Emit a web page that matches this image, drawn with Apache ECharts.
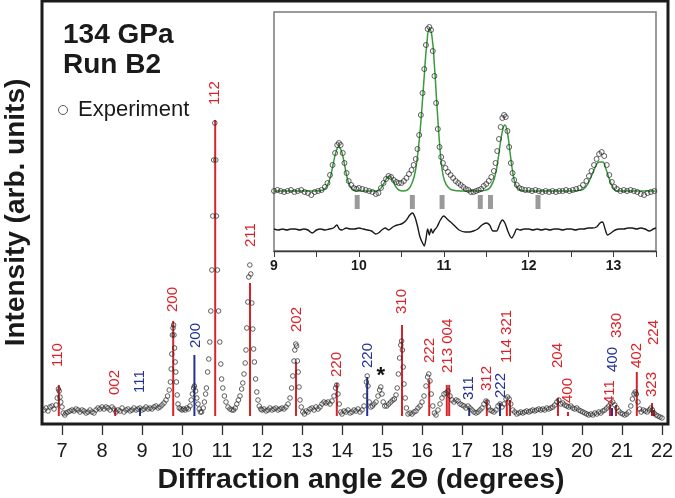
<!DOCTYPE html>
<html><head><meta charset="utf-8">
<script src="https://cdn.jsdelivr.net/npm/echarts@6/dist/echarts.min.js"></script>
<style>html,body{margin:0;padding:0;background:#fff}#c{width:675px;height:498px}</style>
</head><body><div id="c"></div>
<script>
const FONT = '"Liberation Sans", Arial, Helvetica, sans-serif';
const RED = '#d8232a', BLUE = '#243391';

// ---- main pattern: [2theta, intensity] ----
const mainObs = [[6.55,14],[6.6,16],[6.65,13],[6.7,17],[6.75,18],[6.8,15],[6.85,19],[6.88,26],[6.91,35],[6.93,33],[6.95,27],[6.97,22],[7.0,17],[7.03,11],[7.07,9],[7.1,11],[7.15,12],[7.2,13],[7.25,14],[7.3,13],[7.35,15],[7.4,14],[7.45,12],[7.5,14],[7.55,13],[7.6,11],[7.65,12],[7.7,14],[7.75,12],[7.8,11],[7.85,14],[7.9,16],[7.95,15],[8.0,17],[8.05,15],[8.1,17],[8.15,16],[8.2,14],[8.25,17],[8.3,15],[8.35,12],[8.4,14],[8.45,13],[8.5,16],[8.55,12],[8.6,14],[8.65,15],[8.7,13],[8.75,14],[8.8,16],[8.85,14],[8.9,15],[8.95,16],[9.0,14],[9.05,15],[9.1,17],[9.15,15],[9.2,16],[9.25,15],[9.3,17],[9.35,18],[9.4,16],[9.45,17],[9.5,19],[9.55,21],[9.6,24],[9.64,28],[9.68,34],[9.71,42],[9.73,55],[9.745,70],[9.76,89],[9.775,96],[9.79,99],[9.8,89],[9.815,76],[9.83,62],[9.845,52],[9.86,42],[9.88,29],[9.9,20],[9.93,16],[9.97,15],[10.0,14],[10.04,15],[10.08,14],[10.12,16],[10.16,15],[10.2,18],[10.23,24],[10.26,30],[10.29,36],[10.31,38],[10.34,33],[10.37,26],[10.4,20],[10.43,15],[10.46,12],[10.49,12],[10.53,16],[10.56,22],[10.59,30],[10.61,36],[10.64,52],[10.67,65],[10.695,82],[10.72,113],[10.745,154],[10.77,208],[10.79,264],[10.82,301],[10.845,264],[10.86,208],[10.885,154],[10.915,113],[10.945,82],[10.97,60],[10.99,45],[11.02,36],[11.06,28],[11.1,22],[11.15,17],[11.2,15],[11.25,14],[11.29,14],[11.33,16],[11.37,20],[11.41,24],[11.45,28],[11.49,35],[11.52,41],[11.55,50],[11.58,61],[11.6,74],[11.62,96],[11.645,122],[11.67,147],[11.695,159],[11.72,150],[11.745,121],[11.77,95],[11.79,75],[11.81,62],[11.84,45],[11.87,32],[11.9,24],[11.93,18],[11.97,15],[12.0,14],[12.05,15],[12.1,13],[12.15,14],[12.2,16],[12.25,14],[12.3,15],[12.35,16],[12.4,14],[12.45,15],[12.5,16],[12.55,15],[12.6,17],[12.65,20],[12.7,26],[12.74,36],[12.77,48],[12.8,63],[12.82,74],[12.845,80],[12.865,78],[12.885,63],[12.905,52],[12.925,37],[12.95,24],[12.98,17],[13.02,12],[13.06,10],[13.1,13],[13.15,12],[13.2,15],[13.25,16],[13.3,14],[13.35,17],[13.4,15],[13.45,17],[13.5,20],[13.55,22],[13.6,21],[13.65,22],[13.7,20],[13.75,23],[13.8,28],[13.84,36],[13.87,39],[13.9,30],[13.93,20],[13.97,12],[14.0,10],[14.05,13],[14.1,12],[14.15,14],[14.2,11],[14.25,12],[14.3,14],[14.35,13],[14.4,15],[14.45,12],[14.5,14],[14.55,18],[14.58,28],[14.61,42],[14.63,48],[14.65,38],[14.68,22],[14.72,17],[14.76,18],[14.8,20],[14.85,22],[14.9,28],[14.94,34],[14.97,37],[15.0,30],[15.03,22],[15.07,18],[15.12,18],[15.17,20],[15.22,22],[15.27,24],[15.31,25],[15.35,29],[15.38,36],[15.41,50],[15.44,66],[15.47,79],[15.49,83],[15.51,74],[15.53,57],[15.55,40],[15.58,26],[15.61,16],[15.65,10],[15.7,11],[15.75,10],[15.8,12],[15.85,13],[15.9,16],[15.95,18],[16.0,22],[16.05,28],[16.1,38],[16.14,47],[16.17,50],[16.2,43],[16.23,30],[16.27,18],[16.31,11],[16.35,9],[16.4,14],[16.45,20],[16.5,26],[16.55,30],[16.6,31],[16.65,33],[16.7,28],[16.75,24],[16.8,22],[16.85,24],[16.9,23],[16.95,20],[17.0,19],[17.05,18],[17.1,16],[17.15,18],[17.2,16],[17.25,14],[17.3,12],[17.35,11],[17.4,12],[17.45,14],[17.5,16],[17.55,20],[17.6,23],[17.63,22],[17.66,17],[17.7,14],[17.75,13],[17.8,12],[17.85,14],[17.9,18],[17.95,20],[18.0,17],[18.05,20],[18.1,25],[18.14,27],[18.18,25],[18.22,20],[18.27,14],[18.32,12],[18.37,10],[18.42,11],[18.47,12],[18.52,11],[18.57,12],[18.62,13],[18.67,12],[18.72,13],[18.77,14],[18.82,13],[18.87,14],[18.92,15],[18.97,14],[19.02,15],[19.07,14],[19.12,16],[19.17,15],[19.22,16],[19.27,17],[19.32,19],[19.37,22],[19.42,24],[19.47,20],[19.52,21],[19.57,19],[19.62,18],[19.67,17],[19.72,18],[19.77,16],[19.82,15],[19.87,16],[19.92,14],[19.97,13],[20.02,12],[20.07,11],[20.12,10],[20.17,9],[20.22,10],[20.27,9],[20.32,11],[20.37,10],[20.42,12],[20.47,11],[20.52,13],[20.57,14],[20.62,16],[20.67,18],[20.72,21],[20.77,22],[20.82,19],[20.87,16],[20.92,13],[20.97,11],[21.02,10],[21.07,9],[21.12,10],[21.17,12],[21.22,18],[21.26,25],[21.3,30],[21.33,32],[21.36,30],[21.4,22],[21.44,15],[21.48,12],[21.53,14],[21.58,13],[21.63,12],[21.68,14],[21.72,16],[21.76,14],[21.8,11],[21.85,9],[21.9,8],[21.95,7],[22.0,6]];

// ---- reflection markers: [2theta, top intensity] ----
const reflBase = 8;
const redRefl = [[6.92,39],[8.33,16],[9.78,103],[10.83,304],[11.7,141],[12.85,62],[13.87,41],[15.5,99],[16.18,44],[16.62,39],[16.68,39],[17.62,24],[18.12,24],[18.2,24],[19.4,26],[19.65,12],[20.7,19],[20.85,19],[21.37,52],[21.75,21],[21.8,14]];
const blueRefl = [[8.95,16],[10.31,69],[14.63,47],[17.18,16],[17.95,21],[20.75,16]];

// ---- hkl labels ----
const labelText  = ['110','002','111','200','200','112','211','202','220','220','310','222','213 004','311','312','222','114 321','204','400','411','400','330','402','323','224'];
const labelAngle = [6.9,8.33,8.95,9.78,10.35,10.83,11.72,12.87,13.88,14.65,15.5,16.2,16.65,17.18,17.62,17.98,18.12,19.4,19.65,20.7,20.78,20.88,21.38,21.75,21.8];
const labelBase  = [57,29,31,112,76,319,177,92,47,56,110,61,51,24,33,26,61,56,21,20,52,86,56,27,79];
const labelPhase = ['r','r','b','r','b','r','r','r','r','b','r','r','r','b','r','b','r','r','r','r','b','r','r','r','r'];
const starMark = [[14.97, 48]];

const xTicks = [7,8,9,10,11,12,13,14,15,16,17,18,19,20,21,22];

// ---- inset ----
const insetTicks = [9,10,11,12,13];
const insetObs = [[9.0,60],[9.04,61],[9.08,60],[9.12,59],[9.16,60],[9.2,61],[9.24,59],[9.28,60],[9.32,61],[9.36,59],[9.4,58],[9.44,56],[9.48,59],[9.52,60],[9.56,61],[9.6,64],[9.63,68],[9.66,76],[9.69,86],[9.72,98],[9.745,106],[9.765,108],[9.785,106],[9.81,98],[9.83,88],[9.855,78],[9.88,70],[9.91,66],[9.94,63],[9.97,62],[10.0,63],[10.04,62],[10.08,61],[10.12,60],[10.16,59],[10.2,57],[10.23,58],[10.26,63],[10.29,68],[10.32,72],[10.35,75],[10.38,74],[10.41,71],[10.44,69],[10.47,68],[10.5,68],[10.53,70],[10.56,73],[10.59,77],[10.62,81],[10.645,86],[10.67,92],[10.69,102],[10.71,116],[10.73,136],[10.75,158],[10.77,182],[10.79,206],[10.81,222],[10.83,224],[10.85,221],[10.87,200],[10.89,175],[10.91,148],[10.93,122],[10.95,104],[10.97,94],[10.99,88],[11.02,83],[11.05,79],[11.08,76],[11.11,73],[11.14,70],[11.17,68],[11.2,66],[11.23,64],[11.26,62],[11.29,61],[11.32,59],[11.35,59],[11.38,60],[11.41,61],[11.44,62],[11.47,65],[11.5,67],[11.53,70],[11.56,74],[11.59,80],[11.61,88],[11.63,100],[11.65,112],[11.67,124],[11.69,133],[11.71,136],[11.73,134],[11.75,120],[11.77,104],[11.79,88],[11.81,78],[11.83,71],[11.86,66],[11.89,63],[11.92,62],[11.96,61],[12.0,61],[12.04,60],[12.08,61],[12.12,60],[12.16,59],[12.2,60],[12.24,59],[12.28,60],[12.32,59],[12.36,60],[12.4,60],[12.44,61],[12.48,60],[12.52,61],[12.56,62],[12.6,63],[12.64,66],[12.68,70],[12.71,75],[12.74,80],[12.77,86],[12.8,92],[12.83,97],[12.86,99],[12.89,95],[12.92,86],[12.95,76],[12.98,69],[13.01,64],[13.04,62],[13.08,60],[13.12,61],[13.16,60],[13.2,61],[13.24,60],[13.28,59],[13.32,57],[13.36,56],[13.4,58],[13.44,59],[13.48,60]];
const insetFit = [[9.0,60],[9.1,60],[9.2,60],[9.3,60],[9.4,60],[9.5,60],[9.58,61],[9.63,66],[9.67,76],[9.7,88],[9.73,99],[9.76,104],[9.79,101],[9.82,91],[9.85,78],[9.88,68],[9.92,62],[9.97,60],[10.1,60],[10.2,60],[10.25,62],[10.29,67],[10.33,73],[10.36,75],[10.39,72],[10.43,65],[10.47,61],[10.52,60],[10.57,61],[10.61,65],[10.65,74],[10.68,88],[10.71,110],[10.74,140],[10.77,175],[10.8,207],[10.83,222],[10.86,215],[10.89,185],[10.92,145],[10.95,108],[10.98,82],[11.01,70],[11.05,64],[11.1,61],[11.2,60],[11.4,60],[11.5,61],[11.55,64],[11.6,74],[11.64,92],[11.67,110],[11.7,123],[11.72,126],[11.75,118],[11.78,99],[11.81,80],[11.84,68],[11.88,62],[11.95,60],[12.5,60],[12.62,61],[12.68,65],[12.73,73],[12.78,83],[12.83,89],[12.87,89],[12.91,82],[12.95,72],[12.99,64],[13.04,60],[13.5,60]];
const insetDiff = [[9.0,22],[9.05,21],[9.1,22],[9.15,21],[9.2,22],[9.25,22],[9.3,21],[9.35,22],[9.4,21],[9.45,18],[9.5,21],[9.55,22],[9.6,21],[9.65,22],[9.7,23],[9.74,26],[9.77,22],[9.8,21],[9.85,23],[9.9,22],[9.95,22],[10.0,23],[10.05,22],[10.1,21],[10.15,20],[10.2,17],[10.23,18],[10.27,21],[10.31,23],[10.35,21],[10.4,24],[10.45,26],[10.5,27],[10.55,30],[10.6,36],[10.63,38],[10.66,34],[10.69,25],[10.72,14],[10.75,8],[10.77,5],[10.79,12],[10.81,22],[10.83,16],[10.85,22],[10.87,18],[10.89,21],[10.92,24],[10.96,31],[11.0,35],[11.04,32],[11.08,29],[11.13,25],[11.18,21],[11.25,19],[11.3,19],[11.35,20],[11.4,22],[11.45,26],[11.5,28],[11.54,26],[11.58,20],[11.62,20],[11.66,27],[11.69,31],[11.72,28],[11.75,21],[11.78,15],[11.8,13],[11.83,17],[11.86,22],[11.9,21],[11.95,22],[12.0,22],[12.05,21],[12.1,22],[12.15,21],[12.2,22],[12.25,21],[12.3,22],[12.35,22],[12.4,21],[12.45,22],[12.5,22],[12.55,21],[12.6,22],[12.65,22],[12.7,23],[12.75,23],[12.8,24],[12.84,28],[12.87,29],[12.9,22],[12.93,16],[12.97,18],[13.02,21],[13.07,22],[13.12,22],[13.17,23],[13.22,23],[13.27,22],[13.32,23],[13.37,22],[13.42,20],[13.47,22],[13.5,23]];
const braggPos = [9.98,10.63,10.98,11.43,11.55,12.11];
const braggTop = 56, braggBottom = 42;

const chart = echarts.init(document.getElementById('c'), null, {renderer:'canvas'});

function reflSeries(list, color){
  return {
    type:'custom', xAxisIndex:0, yAxisIndex:0, silent:true, z:3,
    data: list,
    renderItem(params, api){
      const a = api.coord([api.value(0), reflBase]);
      const b = api.coord([api.value(0), api.value(1)]);
      return {type:'line', shape:{x1:a[0], y1:a[1], x2:b[0], y2:b[1]}, style:{stroke:color, lineWidth:2}};
    }
  };
}

const option = {
  animation:false,
  backgroundColor:'#fff',
  grid:[
    {left:42, right:7, top:1, bottom:74, containLabel:false, outerBoundsMode:'none', show:true, borderColor:'#1b1b1b', borderWidth:3, backgroundColor:'transparent'},
    {left:274, right:19, top:12, bottom:247, containLabel:false, outerBoundsMode:'none', show:true, borderColor:'#7a7a7a', borderWidth:1.5, backgroundColor:'#fff', z:5}
  ],
  xAxis:[
    {type:'value', gridIndex:0, min:6.5, max:22.15, splitLine:{show:false},
     axisLine:{show:false},
     axisTick:{show:true, customValues:xTicks, length:11, lineStyle:{color:'#333', width:1.3}},
     axisLabel:{customValues:xTicks, fontSize:20, color:'#1a1a1a', fontFamily:FONT, margin:17},
     name:'Diffraction angle 2\u0398 (degrees)', nameLocation:'middle', nameGap:40,
     nameTextStyle:{fontSize:28.5, fontWeight:'bold', color:'#1a1a1a', fontFamily:FONT, padding:[0,0,0,12]}},
    {type:'value', gridIndex:1, min:9, max:13.5, interval:0.5, splitLine:{show:false}, z:6,
     axisLine:{show:true, onZero:false, lineStyle:{color:'#3a3a3a', width:1.3}},
     axisTick:{show:true, length:6, lineStyle:{color:'#3a3a3a', width:1}},
     axisLabel:{customValues:insetTicks, fontSize:14, fontWeight:'bold', color:'#1a1a1a', fontFamily:FONT, margin:8}}
  ],
  yAxis:[
    {type:'value', gridIndex:0, min:0, max:423, splitLine:{show:false}, axisLine:{show:false}, axisTick:{show:false}, axisLabel:{show:false},
     name:'Intensity (arb. units)', nameLocation:'middle', nameGap:12,
     nameTextStyle:{fontSize:28, fontWeight:'bold', color:'#1a1a1a', fontFamily:FONT}},
    {type:'value', gridIndex:1, min:0, max:239, show:false}
  ],
  legend:{data:['Experiment'], left:58, top:99, itemWidth:20, itemHeight:9, padding:0,
    itemStyle:{color:'rgba(0,0,0,0)', borderColor:'#333', borderWidth:1},
    textStyle:{fontSize:22, color:'#1a1a1a', fontFamily:FONT}},
  graphic:[
    {type:'text', left:63, top:21, style:{text:'134 GPa', font:'bold 28px '+FONT, fill:'#1a1a1a'}},
    {type:'text', left:63, top:51, style:{text:'Run B2', font:'bold 28px '+FONT, fill:'#1a1a1a'}}
  ],
  series:[
    reflSeries(redRefl, RED),
    reflSeries(blueRefl, BLUE),
    {name:'Experiment', type:'scatter', xAxisIndex:0, yAxisIndex:0, data:mainObs, symbol:'circle', symbolSize:4.6, silent:true, z:4,
     itemStyle:{color:'rgba(0,0,0,0)', borderColor:'#262626', borderWidth:0.9}},
    {type:'custom', xAxisIndex:0, yAxisIndex:0, silent:true, z:5,
     data: labelAngle.map((a,i)=>[a, labelBase[i]]),
     renderItem(params, api){
       const p = api.coord([api.value(0), api.value(1)]);
       const i = params.dataIndex;
       return {type:'text', x:p[0], y:p[1], rotation:Math.PI/2,
         style:{text:labelText[i], fill: labelPhase[i]==='b'?BLUE:RED, font:'15px '+FONT, align:'left', verticalAlign:'middle'}};
     }},
    {type:'custom', xAxisIndex:0, yAxisIndex:0, silent:true, z:5, data:starMark,
     renderItem(params, api){
       const p = api.coord([api.value(0), api.value(1)]);
       return {type:'text', x:p[0], y:p[1], style:{text:'*', fill:'#111', font:'bold 22px '+FONT, align:'center', verticalAlign:'middle'}};
     }},
    // inset
    {type:'custom', xAxisIndex:1, yAxisIndex:1, silent:true, z:7,
     data: braggPos.map(p=>[p, braggTop]),
     renderItem(params, api){
       const a = api.coord([api.value(0), braggTop]);
       const b = api.coord([api.value(0), braggBottom]);
       return {type:'rect', shape:{x:a[0]-2.5, y:a[1], width:5, height:b[1]-a[1]}, style:{fill:'#9a9a9a'}};
     }},
    {type:'line', xAxisIndex:1, yAxisIndex:1, data:insetDiff, showSymbol:false, symbol:'none', smooth:0.3, silent:true, z:7,
     lineStyle:{color:'#1a1a1a', width:1.4}},
    {type:'line', xAxisIndex:1, yAxisIndex:1, data:insetFit, showSymbol:false, symbol:'none', smooth:0.5, silent:true, z:8,
     lineStyle:{color:'#3a9a3c', width:1.5}},
    {type:'scatter', xAxisIndex:1, yAxisIndex:1, data:insetObs, symbol:'circle', symbolSize:5, silent:true, z:9,
     itemStyle:{color:'rgba(0,0,0,0)', borderColor:'#262626', borderWidth:0.9}}
  ]
};
chart.setOption(option);
</script></body></html>
